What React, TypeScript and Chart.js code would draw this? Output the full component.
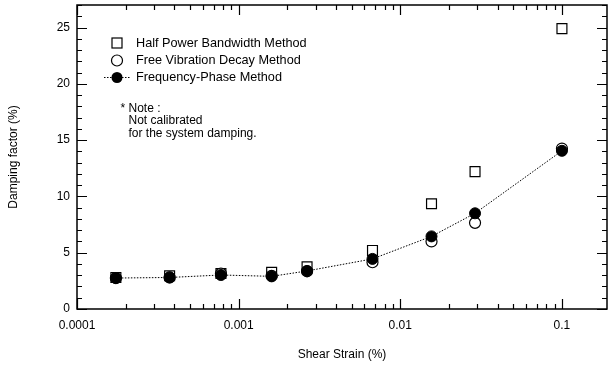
import { useEffect, useRef } from "react";
import { Chart, registerables } from "chart.js";

Chart.register(...registerables);

// ---- data ----
const strain = [0.000174, 0.000374, 0.000777, 0.0016, 0.00265, 0.00673, 0.0156, 0.029, 0.1];
const halfPower = [2.8, 2.95, 3.15, 3.25, 3.75, 5.2, 9.35, 12.2, 24.9];
const freeVibration = [2.75, 2.8, 3.15, 2.95, 3.35, 4.15, 6.0, 7.65, 14.25];
const frequencyPhase = [2.75, 2.8, 3.02, 2.9, 3.38, 4.45, 6.45, 8.5, 14.05];

const xTickValues = [0.0001, 0.001, 0.01, 0.1];
const xTickLabels = ["0.0001", "0.001", "0.01", "0.1"];
const xMinorMultipliers = [1, 2, 3, 4, 5, 6, 7, 8, 9];
const yTickValues = [0, 5, 10, 15, 20, 25];
const yTickLabels = ["0", "5", "10", "15", "20", "25"];

const legendLabels = [
  "Half Power Bandwidth Method",
  "Free Vibration Decay Method",
  "Frequency-Phase Method",
];
const noteLines = ["* Note :", "Not calibrated", "for the system damping."];

const xTitle = "Shear Strain (%)";
const yTitle = "Damping factor (%)";

const FONT = "'Liberation Sans', Arial, Helvetica, sans-serif";

const framePlugin = {
  id: "frameTicks",
  beforeDatasetsDraw(chart: any) {
    const { ctx, chartArea: a, scales } = chart;
    const x = scales.x;
    const y = scales.y;
    ctx.save();
    ctx.strokeStyle = "#000";
    ctx.lineWidth = 1.5;
    ctx.beginPath();
    ctx.rect(a.left, a.top, a.right - a.left, a.bottom - a.top);
    ctx.stroke();
    ctx.lineWidth = 1.2;
    ctx.beginPath();
    for (const dv of xTickValues) {
      for (const m of xMinorMultipliers) {
        const v = dv * m;
        if (v > x.max || v < x.min) continue;
        const px = Math.round(x.getPixelForValue(v)) + 0.5;
        const len = m === 1 ? 10 : 5;
        ctx.moveTo(px, a.bottom);
        ctx.lineTo(px, a.bottom - len);
        ctx.moveTo(px, a.top);
        ctx.lineTo(px, a.top + len);
      }
    }
    for (let v = 0; v <= y.max; v += 1) {
      const py = Math.round(y.getPixelForValue(v)) + 0.5;
      const len = v % 5 === 0 ? 10 : 5;
      ctx.moveTo(a.left, py);
      ctx.lineTo(a.left + len, py);
      ctx.moveTo(a.right, py);
      ctx.lineTo(a.right - len, py);
    }
    ctx.stroke();
    ctx.restore();
  },
  afterDraw(chart: any) {
    const { ctx } = chart;
    ctx.save();
    ctx.strokeStyle = "#000";
    ctx.fillStyle = "#000";
    ctx.lineWidth = 1.2;
    const sx = 117;
    const rows = [43, 60.5, 77.5];
    ctx.strokeRect(sx - 5, rows[0] - 5, 10, 10);
    ctx.beginPath();
    ctx.arc(sx, rows[1], 5.5, 0, Math.PI * 2);
    ctx.stroke();
    ctx.save();
    ctx.lineWidth = 1;
    ctx.setLineDash([1.5, 1.5]);
    ctx.beginPath();
    ctx.moveTo(104, rows[2]);
    ctx.lineTo(131, rows[2]);
    ctx.stroke();
    ctx.restore();
    ctx.beginPath();
    ctx.arc(sx, rows[2], 5.5, 0, Math.PI * 2);
    ctx.fill();
    ctx.font = `12.7px ${FONT}`;
    ctx.textBaseline = "middle";
    ctx.textAlign = "left";
    legendLabels.forEach((t, i) => ctx.fillText(t, 136, rows[i]));
    ctx.font = `12px ${FONT}`;
    ctx.fillText(noteLines[0], 120.5, 109);
    ctx.fillText(noteLines[1], 128.5, 121);
    ctx.fillText(noteLines[2], 128.5, 133.3);
    ctx.restore();
  },
};

export default function App() {
  const ref = useRef<HTMLCanvasElement | null>(null);
  useEffect(() => {
    document.body.style.margin = "0";
    const canvas = ref.current!;
    const tickFont = { family: FONT, size: 12 };
    const chart = new Chart(canvas, {
      type: "scatter",
      data: {
        datasets: [
          {
            label: legendLabels[2],
            data: strain.map((s, i) => ({ x: s, y: frequencyPhase[i] })),
            showLine: true,
            borderColor: "#000",
            borderWidth: 1,
            borderDash: [1.5, 1.5],
            pointStyle: "circle",
            pointRadius: 5.5,
            pointBackgroundColor: "#000",
            pointBorderColor: "#000",
            pointBorderWidth: 1,
          },
          {
            label: legendLabels[1],
            data: strain.map((s, i) => ({ x: s, y: freeVibration[i] })),
            showLine: false,
            pointStyle: "circle",
            pointRadius: 5.5,
            pointBackgroundColor: "#fff",
            pointBorderColor: "#000",
            pointBorderWidth: 1.2,
          },
          {
            label: legendLabels[0],
            data: strain.map((s, i) => ({ x: s, y: halfPower[i] })),
            showLine: false,
            pointStyle: "rect",
            pointRadius: 7,
            pointBackgroundColor: "#fff",
            pointBorderColor: "#000",
            pointBorderWidth: 1.2,
          },
        ],
      },
      options: {
        animation: false,
        responsive: false,
        devicePixelRatio: 1,
        layout: { autoPadding: false, padding: { top: 5, right: 7, left: 0, bottom: 0 } },
        plugins: {
          legend: { display: false },
          tooltip: { enabled: false },
        },
        scales: {
          x: {
            type: "logarithmic",
            min: 0.0001,
            max: 0.19,
            grid: { display: false, drawTicks: false },
            border: { display: false },
            afterBuildTicks: (s: any) => {
              s.ticks = xTickValues.map((v) => ({ value: v }));
            },
            afterFit: (s: any) => {
              s.height = 60;
            },
            ticks: {
              color: "#000",
              font: tickFont,
              padding: 9,
              maxRotation: 0,
              autoSkip: false,
              callback: (v: any) => {
                const i = xTickValues.findIndex((t) => Math.abs(t - v) / t < 1e-6);
                return i >= 0 ? xTickLabels[i] : "";
              },
            },
            title: {
              display: true,
              text: xTitle,
              color: "#000",
              font: { family: FONT, size: 12 },
              padding: { top: 0, bottom: 7 },
            },
          },
          y: {
            type: "linear",
            min: 0,
            max: 27,
            grid: { display: false, drawTicks: true, tickLength: 7 },
            border: { display: false },
            afterBuildTicks: (s: any) => {
              s.ticks = yTickValues.map((v) => ({ value: v }));
            },
            afterFit: (s: any) => {
              s.width = 77;
            },
            ticks: {
              color: "#000",
              font: { family: FONT, size: 12, lineHeight: 0.1 },
              padding: 0,
              autoSkip: false,
              callback: (v: any) => {
                const i = yTickValues.indexOf(v);
                return i >= 0 ? yTickLabels[i] : "";
              },
            },
            title: {
              display: true,
              text: yTitle,
              color: "#000",
              font: { family: FONT, size: 12 },
              padding: { top: 6, bottom: 0 },
            },
          },
        },
      },
      plugins: [framePlugin],
    } as any);
    return () => chart.destroy();
  }, []);
  return (
    <div style={{ position: "absolute", left: 0, top: 0, width: 614, height: 369, background: "#fff" }}>
      <canvas ref={ref} width={614} height={369} />
    </div>
  );
}
